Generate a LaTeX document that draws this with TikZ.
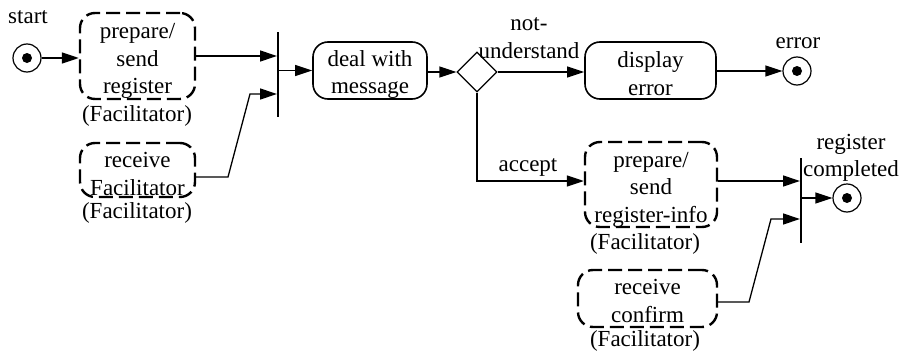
\documentclass[tikz,border=0pt]{standalone}
\usepackage{fontspec}
\setmainfont{Liberation Serif}
\usetikzlibrary{arrows.meta,shapes.geometric}
\begin{document}
\begin{tikzpicture}[x=1pt,y=-1pt,
  every node/.style={font=\fontsize{23}{27.5}\selectfont, align=center},
  act/.style={draw, rounded corners=15pt, line width=1.6pt, inner sep=0pt},
  sendact/.style={draw, rounded corners=15pt, line width=2.4pt, dash pattern=on 14pt off 6pt, inner sep=0pt},
  endpt/.style={circle, draw, line width=1.2pt, minimum size=28pt, inner sep=0pt,
    path picture={\fill (path picture bounding box.center) circle (5pt);}},
  bar/.style={fill=black, minimum width=1.6pt, inner sep=0pt},
  decide/.style={diamond, draw, line width=1.3pt, minimum width=40pt, minimum height=40pt, inner sep=0pt},
  lbl/.style={inner sep=0pt},
  arr/.style={line width=1.3pt, -{Triangle[length=17pt,width=11pt]}},
  ln/.style={line width=1.3pt}]
\useasboundingbox (0,0) rectangle (903,356);

% start
\node[endpt] (start) at (27,58) {};
\node[lbl] (startl) at (28,17) {start};

% first fork: sending the register and receiving the facilitator
\node[sendact, minimum width=115pt, minimum height=86pt] (prep1) at (137.5,56) {};
\node[lbl] (prep1t) at (137.5,61) {prepare/\\send\\register};
\node[lbl] (fac1) at (137,116) {(Facilitator)};
\node[sendact, minimum width=115pt, minimum height=54pt] (recv1) at (137.5,170) {};
\node[lbl] (recv1t) at (137.5,174) {receive\\Facilitator};
\node[lbl] (fac2) at (137,213) {(Facilitator)};
\node[bar, minimum height=85pt] (join1) at (278,74.5) {};

\draw[arr] (start) -- (prep1.west |- start);
\draw[arr] (prep1.east) -- (join1.west |- prep1.east);
\coordinate (r1a) at (228,177);
\coordinate (r1b) at (250,94);
\draw[arr] (recv1.east |- r1a) -- (r1a) -- (r1b) -- (join1.west |- r1b);

% message handling
\node[act, minimum width=114pt, minimum height=57pt] (deal) at (370,70.5) {};
\node[lbl] (dealt) at (370,74.5) {deal with\\message};
\draw[arr] (join1.east |- deal) -- (deal.west);
\node[decide] (dec) at (477,72) {};
\draw[arr] (deal.east |- dec) -- (dec.west);

% error branch
\node[act, minimum width=131pt, minimum height=57pt] (disp) at (650.5,70.5) {};
\node[lbl] (dispt) at (650.5,73.5) {display\\error};
\node[lbl] (nu) at (529,38) {not-\\understand};
\draw[arr] (dec.east) -- (disp.west |- dec);
\node[endpt] (errend) at (797,71) {};
\node[lbl] (errl) at (798,43) {error};
\draw[arr] (disp.east |- errend) -- (errend.west);

% accept branch
\node[sendact, minimum width=132pt, minimum height=85pt] (prep2) at (651,184.5) {};
\node[lbl] (prep2t) at (651,189.5) {prepare/\\send\\register-info};
\node[lbl] (fac3) at (645,244) {(Facilitator)};
\node[sendact, minimum width=139pt, minimum height=57pt] (recv2) at (647.5,298.5) {};
\node[lbl] (recv2t) at (647.5,301) {receive\\confirm};
\node[lbl] (fac4) at (645,341) {(Facilitator)};
\coordinate (acc) at (477,181);
\draw[arr] (dec.south) -- (acc) -- (prep2.west |- acc);
\node[lbl] (accl) at (528,167) {accept};

\node[bar, minimum height=85pt] (join2) at (801,200.5) {};
\draw[arr] (prep2.east |- acc) -- (join2.west |- acc);
\coordinate (r2a) at (749,302);
\coordinate (r2b) at (771,219);
\draw[arr] (recv2.east |- r2a) -- (r2a) -- (r2b) -- (join2.west |- r2b);

\node[endpt] (doneend) at (847,198) {};
\node[lbl] (donel) at (851,158) {register\\completed};
\draw[arr] (join2.east |- doneend) -- (doneend.west);
\end{tikzpicture}
\end{document}
